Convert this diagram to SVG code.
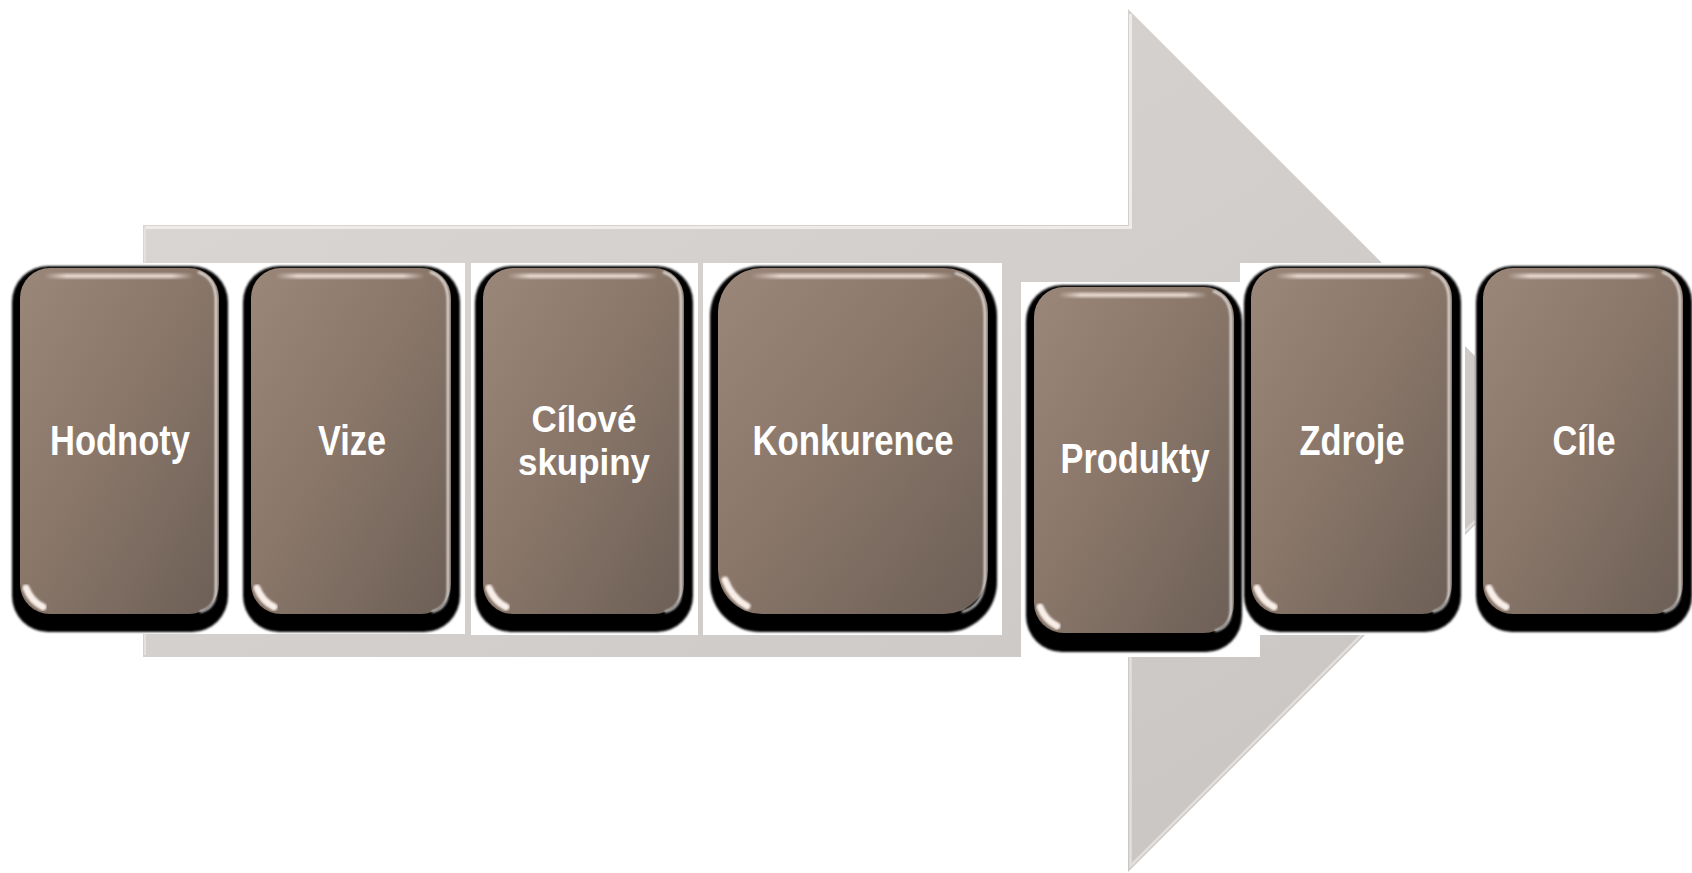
<svg xmlns="http://www.w3.org/2000/svg" width="1692" height="873" viewBox="0 0 1692 873">
<defs>
  <linearGradient id="arrowFill" x1="0" y1="0" x2="1" y2="1">
    <stop offset="0" stop-color="#dbd7d4"/>
    <stop offset="0.5" stop-color="#d2cecb"/>
    <stop offset="1" stop-color="#c7c3c1"/>
  </linearGradient>
  <linearGradient id="boxFill" x1="0" y1="0" x2="1" y2="1">
    <stop offset="0" stop-color="#9b877a"/>
    <stop offset="0.45" stop-color="#8a776a"/>
    <stop offset="1" stop-color="#6c5f56"/>
  </linearGradient>
  <linearGradient id="topGlow" x1="0" y1="0" x2="0" y2="1">
    <stop offset="0" stop-color="#ffffff" stop-opacity="0"/>
    <stop offset="0.5" stop-color="#f3e0d6" stop-opacity="0.9"/>
    <stop offset="1" stop-color="#ffffff" stop-opacity="0"/>
  </linearGradient>
  <linearGradient id="topGlowH" x1="0" y1="0" x2="1" y2="0">
    <stop offset="0" stop-color="#fff" stop-opacity="0"/>
    <stop offset="0.15" stop-color="#fff" stop-opacity="1"/>
    <stop offset="0.85" stop-color="#fff" stop-opacity="1"/>
    <stop offset="1" stop-color="#fff" stop-opacity="0"/>
  </linearGradient>
  <mask id="glowMask" maskContentUnits="objectBoundingBox">
    <rect x="0" y="0" width="1" height="1" fill="url(#topGlowH)"/>
  </mask>
  <filter id="soft" x="-20%" y="-20%" width="140%" height="140%">
    <feGaussianBlur stdDeviation="1.2"/>
  </filter>
  <filter id="shadowBlur" x="-10%" y="-10%" width="120%" height="120%">
    <feGaussianBlur stdDeviation="0.8"/>
  </filter>
</defs>
<style>
  .bg { fill: #ffffff; }
  .shadow { fill: #000000; filter: url(#shadowBlur); }
  .box { fill: url(#boxFill); }
  .glow { fill: url(#topGlow); }
  .rim { fill: none; stroke: #ffffff; stroke-opacity: 0.85; stroke-width: 2.2; filter: url(#soft); }
  .lrim { fill: none; stroke: #c9b3a6; stroke-opacity: 0.7; stroke-width: 2; filter: url(#soft); }
  .glare { fill: none; stroke: #fff6f0; stroke-width: 7; stroke-linecap: round; filter: url(#soft); stroke-opacity: 0.95; }
  .label { fill: #ffffff; font-family: "Liberation Sans Narrow", "Liberation Sans", Arial, sans-serif; font-weight: bold; font-size: 42px; text-anchor: middle; }
  .label2 { font-size: 37px; }
</style>

<g id="connectors">
  <path id="big-arrow" d="M143,225 L1128,225 L1128,9 L1559.5,440.5 L1128,872 L1128,657 L143,657 Z" fill="url(#arrowFill)"/>
  <path d="M145,227.5 L1130.5,227.5 L1130.5,14" fill="none" stroke="#eeebe9" stroke-width="3"/>
  <path d="M145,227 L145,655" fill="none" stroke="#e4e1df" stroke-width="2"/>
  <path d="M1130.5,655 L1130.5,866 L1555,441" fill="none" stroke="#e2dfdd" stroke-width="2.5"/>
</g>

<g id="backgrounds">
  <rect class="bg" x="0" y="263" width="465" height="371"/>
  <rect class="bg" x="471" y="263" width="227" height="372"/>
  <rect class="bg" x="703" y="263" width="299" height="372"/>
  <rect class="bg" x="1240" y="263" width="225" height="372"/>
  <rect class="bg" x="1021" y="282" width="239" height="375"/>
  <rect class="bg" x="1475" y="263" width="217" height="372"/>
</g>

<g id="node-hodnoty">
  <rect class="shadow" x="12" y="266" width="216" height="366" rx="36"/>
  <rect class="box" x="20" y="268" width="199" height="346" rx="30"/>
  <rect class="glow" x="44" y="272" width="150" height="8" rx="4" mask="url(#glowMask)"/>
  <path class="rim" d="M198,272 Q216,278 216,300 L216,590 Q216,608 200,612"/>
  <path class="lrim" d="M23,300 L23,560"/>
  <path class="glare" d="M26,588 Q31,601 43,607"/>
  <text class="label" x="120" y="455" textLength="140" lengthAdjust="spacingAndGlyphs">Hodnoty</text>
</g>

<g id="node-vize">
  <rect class="shadow" x="243" y="266" width="217" height="366" rx="36"/>
  <rect class="box" x="251" y="268" width="200" height="346" rx="30"/>
  <rect class="glow" x="275" y="272" width="150" height="8" rx="4" mask="url(#glowMask)"/>
  <path class="rim" d="M430,272 Q448,278 448,300 L448,590 Q448,608 432,612"/>
  <path class="lrim" d="M254,300 L254,560"/>
  <path class="glare" d="M257,588 Q262,601 274,607"/>
  <text class="label" x="352" y="455" textLength="68" lengthAdjust="spacingAndGlyphs">Vize</text>
</g>

<g id="node-cilove-skupiny">
  <rect class="shadow" x="475" y="266" width="218" height="366" rx="36"/>
  <rect class="box" x="483" y="268" width="201" height="346" rx="30"/>
  <rect class="glow" x="507" y="272" width="151" height="8" rx="4" mask="url(#glowMask)"/>
  <path class="rim" d="M663,272 Q681,278 681,300 L681,590 Q681,608 665,612"/>
  <path class="lrim" d="M486,300 L486,560"/>
  <path class="glare" d="M489,588 Q494,601 506,607"/>
  <text class="label label2" x="584" y="432" textLength="105" lengthAdjust="spacingAndGlyphs">Cílové</text>
  <text class="label label2" x="584" y="475" textLength="132" lengthAdjust="spacingAndGlyphs">skupiny</text>
</g>

<g id="node-konkurence">
  <rect class="shadow" x="710" y="266" width="287" height="366" rx="50"/>
  <rect class="box" x="718" y="268" width="270" height="346" rx="44"/>
  <rect class="glow" x="750" y="272" width="205" height="8" rx="4" mask="url(#glowMask)"/>
  <path class="rim" d="M955,273 Q985,282 985,315 L985,575 Q985,606 962,612"/>
  <path class="lrim" d="M721,315 L721,550"/>
  <path class="glare" d="M725,580 Q732,598 747,606"/>
  <text class="label" x="853" y="455" textLength="201" lengthAdjust="spacingAndGlyphs">Konkurence</text>
</g>

<g id="node-produkty">
  <rect class="shadow" x="1026" y="285" width="216" height="367" rx="36"/>
  <rect class="box" x="1034" y="287" width="200" height="346" rx="30"/>
  <rect class="glow" x="1058" y="291" width="150" height="8" rx="4" mask="url(#glowMask)"/>
  <path class="rim" d="M1213,291 Q1231,297 1231,319 L1231,609 Q1231,627 1215,631"/>
  <path class="lrim" d="M1037,319 L1037,579"/>
  <path class="glare" d="M1040,607 Q1045,620 1057,626"/>
  <text class="label" x="1135" y="473" textLength="149" lengthAdjust="spacingAndGlyphs">Produkty</text>
</g>

<g id="node-zdroje">
  <rect class="shadow" x="1244" y="266" width="217" height="366" rx="36"/>
  <rect class="box" x="1251" y="268" width="201" height="346" rx="30"/>
  <rect class="glow" x="1275" y="272" width="151" height="8" rx="4" mask="url(#glowMask)"/>
  <path class="rim" d="M1431,272 Q1449,278 1449,300 L1449,590 Q1449,608 1433,612"/>
  <path class="lrim" d="M1254,300 L1254,560"/>
  <path class="glare" d="M1257,588 Q1262,601 1274,607"/>
  <text class="label" x="1352" y="455" textLength="105" lengthAdjust="spacingAndGlyphs">Zdroje</text>
</g>

<g id="node-cile">
  <rect class="shadow" x="1476" y="266" width="216" height="366" rx="36"/>
  <rect class="box" x="1483" y="268" width="200" height="346" rx="30"/>
  <rect class="glow" x="1507" y="272" width="150" height="8" rx="4" mask="url(#glowMask)"/>
  <path class="rim" d="M1662,272 Q1680,278 1680,300 L1680,590 Q1680,608 1664,612"/>
  <path class="lrim" d="M1486,300 L1486,560"/>
  <path class="glare" d="M1489,588 Q1494,601 1506,607"/>
  <text class="label" x="1584" y="455" textLength="63" lengthAdjust="spacingAndGlyphs">Cíle</text>
</g>
</svg>
